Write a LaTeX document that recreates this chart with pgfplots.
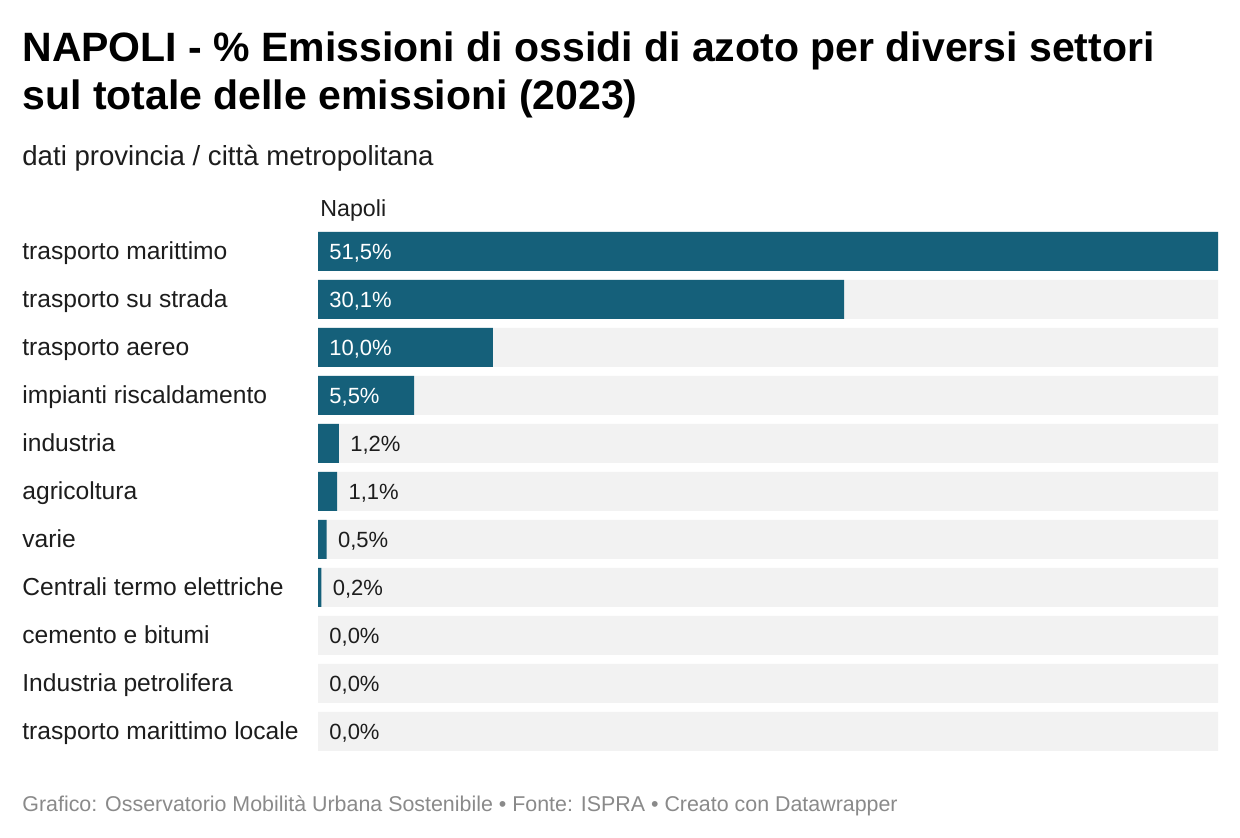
\documentclass[border=0pt]{standalone}
\usepackage{fontspec}
\setmainfont{Liberation Sans}
\usepackage{pgfplots}
\pgfplotsset{compat=1.18}
\definecolor{barblue}{HTML}{15607A}
\definecolor{track}{HTML}{F2F2F2}
\definecolor{ink}{HTML}{1D1D1D}
\definecolor{foot}{HTML}{8A8A8A}

\begin{document}
\begin{tikzpicture}
\path[fill=white] (0,0) rectangle (620pt,419pt);
\node[anchor=base west, inner sep=0, text=black, font=\bfseries\fontsize{20.5}{24}\selectfont] at (11pt,388pt)
  {NAPOLI - \% Emissioni di ossidi di azoto per diversi settori};
\node[anchor=base west, inner sep=0, text=black, font=\bfseries\fontsize{20.5}{24}\selectfont] at (11pt,364pt)
  {sul totale delle emissioni (2023)};
\node[anchor=base west, inner sep=0, text=ink, font=\fontsize{13.8}{16}\selectfont] at (11pt,336pt)
  {dati provincia / città metropolitana};
\node[anchor=base west, inner sep=0, text=ink, font=\fontsize{11.6}{13}\selectfont] at (160pt,310.5pt)
  {Napoli};
\node[anchor=base west, inner sep=0, text=foot, font=\fontsize{10.7}{12}\selectfont] at (11pt,13pt)
  {Grafico: Osservatorio Mobilità Urbana Sostenibile • Fonte: ISPRA • Creato con Datawrapper};

\begin{axis}[
  at={(159pt,41.25pt)}, anchor=south west,
  scale only axis, width=450pt, height=264pt,
  xmin=0, xmax=51.5, ymin=-0.5, ymax=10.5, y dir=reverse,
  axis lines=none, clip=false,
  every node near coord/.append style={font=\fontsize{11}{13}\selectfont, inner sep=0},
]
% grey tracks
\addplot[xbar, bar width=19.5pt, bar shift=0pt, fill=track, draw=none]
  coordinates {(51.5,0)(51.5,1)(51.5,2)(51.5,3)(51.5,4)(51.5,5)(51.5,6)(51.5,7)(51.5,8)(51.5,9)(51.5,10)};
% values (zero bars skipped so no hairline shows)
\addplot[xbar, bar width=19.5pt, bar shift=0pt, fill=barblue, draw=none,
  restrict x to domain=0.01:100]
  coordinates {(51.5,0)(30.1,1)(10.0,2)(5.5,3)(1.2,4)(1.1,5)(0.5,6)(0.2,7)(0,8)(0,9)(0,10)};
% category names
\addplot[draw=none, no markers, nodes near coords, point meta=explicit symbolic,
  nodes near coords style={anchor=base west, xshift=-148pt, yshift=-4pt, text=ink,
    font=\fontsize{12.3}{14}\selectfont}]
  coordinates {
    (0,0)[trasporto marittimo]
    (0,1)[trasporto su strada]
    (0,2)[trasporto aereo]
    (0,3)[impianti riscaldamento]
    (0,4)[industria]
    (0,5)[agricoltura]
    (0,6)[varie]
    (0,7)[Centrali termo elettriche]
    (0,8)[cemento e bitumi]
    (0,9)[Industria petrolifera]
    (0,10)[trasporto marittimo locale]
  };
% labels inside the bars
\addplot[draw=none, no markers, nodes near coords, point meta=explicit symbolic,
  nodes near coords style={anchor=base west, xshift=5.5pt, yshift=-4pt, text=white}]
  coordinates {(0,0)[51,5\%] (0,1)[30,1\%] (0,2)[10,0\%] (0,3)[5,5\%]};
% labels beside the bars
\addplot[draw=none, no markers, nodes near coords, point meta=explicit symbolic,
  nodes near coords style={anchor=base west, xshift=5.5pt, yshift=-4pt, text=ink}]
  coordinates {(1.2,4)[1,2\%] (1.1,5)[1,1\%] (0.5,6)[0,5\%] (0.2,7)[0,2\%]
    (0,8)[0,0\%] (0,9)[0,0\%] (0,10)[0,0\%]};
\end{axis}
\end{tikzpicture}
\end{document}
